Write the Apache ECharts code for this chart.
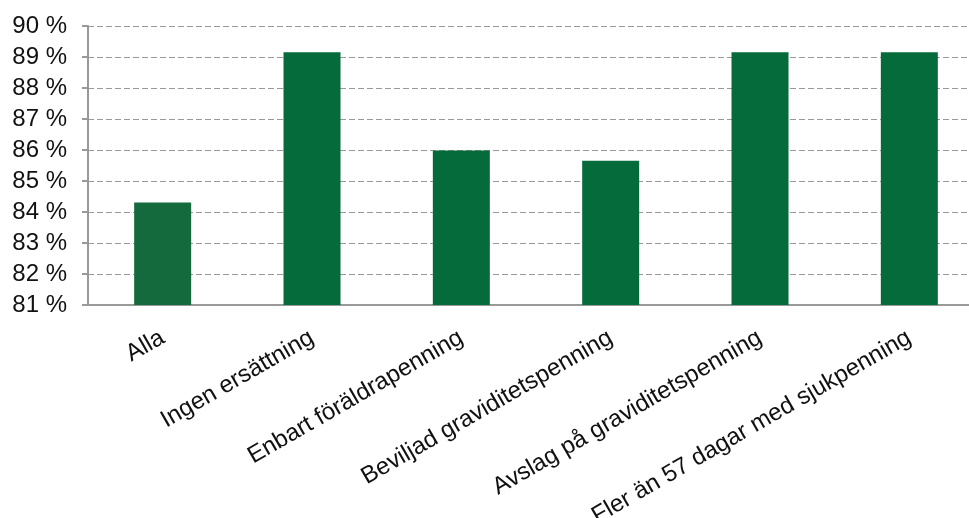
<!DOCTYPE html>
<html>
<head>
<meta charset="utf-8">
<script src="https://cdn.jsdelivr.net/npm/echarts@6/dist/echarts.min.js"></script>
<style>
  html, body { margin: 0; padding: 0; background: #fff; }
  #chart { width: 969px; height: 518px; }
</style>
</head>
<body>
<div id="chart"></div>
<script>
  // kategorier och andelar (%)
  var categories = ['Alla', 'Ingen ersättning', 'Enbart föräldrapenning', 'Beviljad graviditetspenning', 'Avslag på graviditetspenning', 'Fler än 57 dagar med sjukpenning'];
  var values = [84.31, 89.15, 85.98, 85.65, 89.15, 89.15];
  var barColors = ['#156a3d', '#066b3a', '#066b3a', '#066b3a', '#066b3a', '#066b3a'];

  var chart = echarts.init(document.getElementById('chart'));
  chart.setOption({
    animation: false,
    textStyle: { fontFamily: 'Liberation Sans, Arial, sans-serif' },
    grid: { left: 88, right: -15, top: 26, bottom: 213, containLabel: false, outerBoundsMode: 'none' },
    xAxis: {
      type: 'category',
      data: categories,
      axisLine: { lineStyle: { color: '#999', width: 2 } },
      axisTick: { show: false },
      axisLabel: { rotate: 30, interval: 0, fontSize: 24, color: '#111', margin: 31 }
    },
    yAxis: {
      type: 'value',
      min: 81,
      max: 90,
      interval: 1,
      axisLine: { show: true, lineStyle: { color: '#999', width: 2 } },
      axisTick: { show: true, length: 6, lineStyle: { color: '#999', width: 2 } },
      axisLabel: { formatter: '{value} %', fontSize: 24, color: '#111', margin: 21 },
      splitLine: { lineStyle: { color: '#999', type: [6, 3], width: 1 } }
    },
    series: [{
      type: 'bar',
      barWidth: 57,
      data: values.map(function (v, i) {
        return { value: v, itemStyle: { color: barColors[i] } };
      })
    }]
  });
</script>
</body>
</html>
